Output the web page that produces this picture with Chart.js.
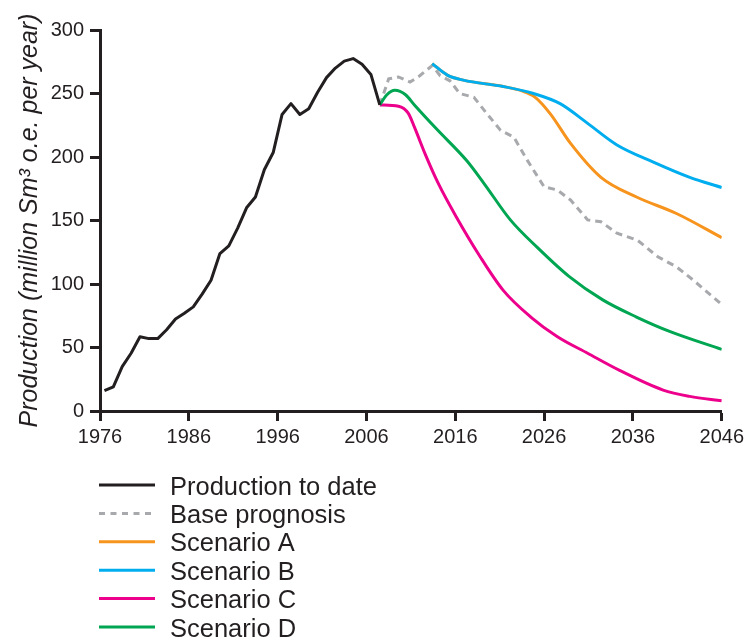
<!DOCTYPE html>
<html>
<head>
<meta charset="utf-8">
<script src="https://cdn.jsdelivr.net/npm/chart.js@4/dist/chart.umd.min.js"></script>
<style>
  html, body { margin: 0; padding: 0; background: #ffffff; }
  canvas { display: block; }
</style>
</head>
<body>
<canvas id="chart" width="748" height="641"></canvas>
<script>
// Historical production, million Sm3 o.e. per year (plotted at mid-year)
const productionYears = [1976, 1977, 1978, 1979, 1980, 1981, 1982, 1983, 1984, 1985,
  1986, 1987, 1988, 1989, 1990, 1991, 1992, 1993, 1994, 1995, 1996, 1997, 1998, 1999,
  2000, 2001, 2002, 2003, 2004, 2005, 2006, 2007];
const productionValues = [16, 19, 35, 45.5, 58.5, 57, 57, 64, 72.5, 77,
  82, 92, 103, 124, 130, 144, 160, 168.5, 190, 203.5, 233.5, 242, 233.5, 238,
  251, 262.5, 270, 275.5, 277.5, 273, 265, 241];

// Base prognosis
const baseYears = [2007.5, 2008.5, 2009.6, 2010.9, 2012.0, 2013.4, 2014.3, 2015.4, 2016.5,
  2018.1, 2019.4, 2021.1, 2022.6, 2024.1, 2026.0, 2027.5, 2029.0, 2030.9, 2032.4, 2034.2,
  2036.5, 2038.8, 2040.9, 2042.8, 2045.9];
const baseValues = [241, 261.5, 263, 259, 264, 272, 264, 260, 250,
  247, 235.5, 221, 215.5, 197.5, 176.5, 174, 166, 150.5, 149, 140,
  134.5, 121.5, 113.5, 103, 84.5];

// Scenario A
const scenarioAYears = [2013.4, 2015.1, 2016.9, 2021.4, 2023.5, 2025.0, 2026.7, 2029.0,
  2032.4, 2036.4, 2040.9, 2046];
const scenarioAValues = [273.5, 264.5, 260.5, 255.5, 252, 247, 234, 210.5,
  184, 168.5, 155.5, 136.5];

// Scenario B
const scenarioBYears = [2013.4, 2015.1, 2016.9, 2021.4, 2024.8, 2027.8, 2030.9, 2034.2,
  2038.3, 2042.4, 2046];
const scenarioBValues = [273.5, 264.5, 260.5, 255.5, 250, 242, 226.5, 209.5,
  196, 184, 176];

// Scenario C
const scenarioCYears = [2007.5, 2009.6, 2010.7, 2011.4, 2012.6, 2014.1, 2016.1, 2018.8,
  2021.4, 2024.5, 2027.5, 2030.9, 2034.5, 2039.4, 2042.4, 2046];
const scenarioCValues = [241, 240, 234.5, 223.5, 202.5, 179, 153, 121.5,
  95, 74, 58.5, 45.5, 32, 16.5, 11.5, 8];

// Scenario D
const scenarioDYears = [2007.5, 2008.3, 2009.2, 2010.4, 2011.4, 2013.9, 2017.3, 2019.2,
  2022.2, 2025.2, 2028.8, 2032.6, 2036.4, 2040.2, 2046];
const scenarioDValues = [241, 249, 252.5, 249, 241, 222, 197, 179.5,
  150.5, 129, 106, 87.5, 74, 62.5, 48.5];

// Axis ticks
const xTickYears = [1976, 1986, 1996, 2006, 2016, 2026, 2036, 2046];
const yTickValues = [0, 50, 100, 150, 200, 250, 300];

const MID_YEAR = 0.5;
const FONT = "'Liberation Sans', Arial, sans-serif";
const INK = '#231f20';

const toPoints = (xs, ys) => xs.map((x, i) => ({ x: x, y: ys[i] }));

// Single-column legend drawn under the plot
const legendPlugin = {
  id: 'listLegend',
  afterDraw(chart, args, opts) {
    const ctx = chart.ctx;
    chart.data.datasets.forEach((ds, i) => {
      const y = opts.top + i * opts.rowHeight;
      ctx.save();
      ctx.strokeStyle = ds.borderColor;
      ctx.lineWidth = ds.borderWidth;
      ctx.setLineDash(ds.legendDash || []);
      ctx.beginPath();
      ctx.moveTo(opts.left, y);
      ctx.lineTo(opts.left + opts.lineLength, y);
      ctx.stroke();
      ctx.setLineDash([]);
      ctx.fillStyle = opts.color;
      ctx.font = opts.font;
      ctx.textBaseline = 'alphabetic';
      ctx.fillText(ds.label, opts.left + opts.lineLength + opts.gap, y + opts.baselineShift);
      ctx.restore();
    });
  }
};

const smooth = { tension: 0.4, cubicInterpolationMode: 'monotone' };

new Chart(document.getElementById('chart'), {
  type: 'line',
  data: {
    datasets: [
      {
        label: 'Production to date',
        data: toPoints(productionYears.map(y => y + MID_YEAR), productionValues),
        borderColor: INK, borderWidth: 3, tension: 0, order: 0,
        borderJoinStyle: 'round'
      },
      {
        label: 'Base prognosis',
        data: toPoints(baseYears, baseValues),
        borderColor: '#a7a9ac', borderWidth: 3, tension: 0, order: 5,
        borderDash: [7, 5], legendDash: [6, 5.5]
      },
      {
        label: 'Scenario A',
        data: toPoints(scenarioAYears, scenarioAValues),
        borderColor: '#f7941d', borderWidth: 3, order: 2, ...smooth
      },
      {
        label: 'Scenario B',
        data: toPoints(scenarioBYears, scenarioBValues),
        borderColor: '#00aeef', borderWidth: 3, order: 1, ...smooth
      },
      {
        label: 'Scenario C',
        data: toPoints(scenarioCYears, scenarioCValues),
        borderColor: '#ec008c', borderWidth: 3, order: 4, ...smooth
      },
      {
        label: 'Scenario D',
        data: toPoints(scenarioDYears, scenarioDValues),
        borderColor: '#00a651', borderWidth: 3, order: 3, ...smooth
      }
    ]
  },
  options: {
    responsive: false,
    animation: false,
    devicePixelRatio: 1,
    layout: { padding: { left: 0, right: 26, top: 30, bottom: 190 } },
    elements: { point: { radius: 0, hoverRadius: 0 }, line: { fill: false } },
    plugins: {
      legend: { display: false },
      tooltip: { enabled: false },
      listLegend: {
        left: 99, top: 485, rowHeight: 28.4, lineLength: 56, gap: 15,
        baselineShift: 9.5, color: INK, font: '25.5px ' + FONT
      }
    },
    scales: {
      x: {
        type: 'linear',
        min: 1976, max: 2046,
        afterBuildTicks: s => { s.ticks = xTickYears.map(v => ({ value: v })); },
        afterFit: s => { s.height = 40; },
        ticks: {
          callback: v => String(v),
          font: { family: FONT, size: 20 }, color: INK, padding: 4, maxRotation: 0
        },
        grid: { drawOnChartArea: false, drawTicks: true, tickLength: 10, tickWidth: 3, tickColor: INK },
        border: { display: true, color: INK, width: 3 }
      },
      y: {
        min: 0, max: 300,
        afterBuildTicks: s => { s.ticks = yTickValues.map(v => ({ value: v })); },
        afterFit: s => { s.width = 100; },
        ticks: {
          font: { family: FONT, size: 20 }, color: INK, padding: 6
        },
        grid: { drawOnChartArea: false, drawTicks: true, tickLength: 10, tickWidth: 3, tickColor: INK },
        border: { display: true, color: INK, width: 3 },
        title: {
          display: true,
          text: 'Production (million Sm³ o.e. per year)',
          font: { family: FONT, size: 25, style: 'italic', lineHeight: 1.2 },
          color: INK,
          padding: { top: 15, bottom: 0 }
        }
      }
    }
  },
  plugins: [legendPlugin]
});
</script>
</body>
</html>
